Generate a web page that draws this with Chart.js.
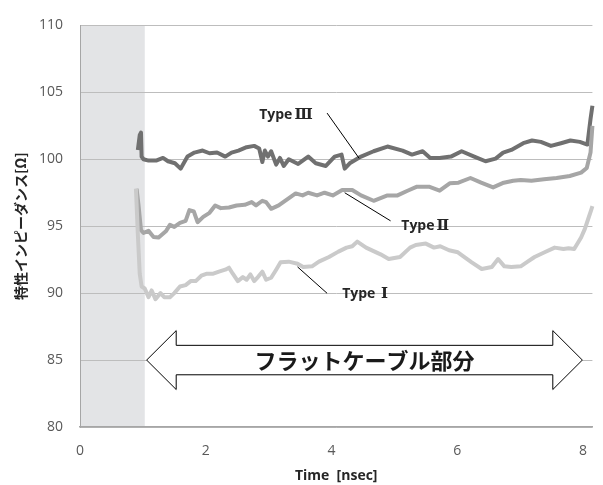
<!DOCTYPE html>
<html>
<head>
<meta charset="utf-8">
<script src="https://cdn.jsdelivr.net/npm/chart.js@4"></script>
<style>
  html, body { margin: 0; padding: 0; background: #fff; }
  #c { display: block; }
</style>
</head>
<body>
<canvas id="c" width="603" height="485"></canvas>
<script>
// 時間軸 [nsec] と特性インピーダンス [Ω]
const tType3 = [0.92, 0.95, 0.97, 0.98, 1.01, 1.09, 1.21, 1.32, 1.40, 1.51, 1.60, 1.71, 1.82, 1.95, 2.06, 2.18, 2.31, 2.41, 2.52, 2.65, 2.77, 2.85, 2.90, 2.94, 2.99, 3.04, 3.12, 3.18, 3.24, 3.32, 3.47, 3.63, 3.75, 3.91, 4.05, 4.16, 4.21, 4.29, 4.47, 4.67, 4.89, 5.13, 5.28, 5.45, 5.57, 5.72, 5.90, 6.07, 6.27, 6.45, 6.61, 6.73, 6.86, 7.05, 7.19, 7.33, 7.49, 7.65, 7.80, 7.95, 8.07, 8.12, 8.15];
const vType3 = [100.7, 101.8, 102.0, 100.2, 100.0, 99.9, 99.9, 100.1, 99.85, 99.7, 99.3, 100.2, 100.5, 100.65, 100.45, 100.5, 100.2, 100.5, 100.65, 100.9, 101.0, 100.8, 99.8, 100.65, 100.2, 100.6, 99.6, 100.1, 99.5, 100.0, 99.65, 100.2, 99.7, 99.5, 100.2, 100.35, 99.3, 99.7, 100.2, 100.6, 100.95, 100.65, 100.35, 100.6, 100.1, 100.1, 100.2, 100.6, 100.2, 99.85, 100.05, 100.5, 100.7, 101.2, 101.4, 101.3, 101.0, 101.2, 101.4, 101.3, 101.1, 103.0, 104.0];

const tType2 = [0.90, 0.93, 0.97, 1.01, 1.09, 1.17, 1.25, 1.37, 1.43, 1.50, 1.59, 1.68, 1.74, 1.81, 1.87, 1.96, 2.06, 2.15, 2.24, 2.37, 2.49, 2.62, 2.73, 2.80, 2.90, 2.96, 3.04, 3.16, 3.43, 3.54, 3.63, 3.77, 3.89, 4.02, 4.17, 4.33, 4.47, 4.67, 4.89, 5.05, 5.21, 5.36, 5.55, 5.72, 5.88, 6.02, 6.21, 6.38, 6.57, 6.74, 6.89, 7.01, 7.18, 7.38, 7.58, 7.79, 7.97, 8.06, 8.12, 8.15];
const vType2 = [97.8, 96.6, 94.7, 94.5, 94.65, 94.2, 94.15, 94.65, 95.1, 94.95, 95.25, 95.4, 96.2, 96.1, 95.3, 95.7, 96.0, 96.55, 96.35, 96.4, 96.55, 96.6, 96.8, 96.55, 96.9, 96.8, 96.3, 96.55, 97.45, 97.3, 97.5, 97.3, 97.5, 97.3, 97.7, 97.7, 97.3, 96.9, 97.3, 97.3, 97.65, 97.95, 97.95, 97.65, 98.2, 98.25, 98.6, 98.25, 97.9, 98.25, 98.4, 98.45, 98.4, 98.5, 98.6, 98.75, 99.0, 99.35, 100.5, 102.5];

const tType1 = [0.89, 0.92, 0.95, 0.98, 1.03, 1.09, 1.14, 1.20, 1.28, 1.34, 1.43, 1.50, 1.59, 1.68, 1.76, 1.84, 1.93, 2.02, 2.12, 2.21, 2.31, 2.37, 2.43, 2.51, 2.59, 2.65, 2.71, 2.77, 2.83, 2.90, 2.96, 3.04, 3.12, 3.19, 3.32, 3.46, 3.55, 3.69, 3.80, 3.96, 4.11, 4.24, 4.33, 4.41, 4.55, 4.78, 4.91, 5.09, 5.25, 5.34, 5.50, 5.63, 5.73, 5.87, 6.01, 6.23, 6.39, 6.55, 6.65, 6.75, 6.86, 7.01, 7.12, 7.23, 7.39, 7.55, 7.69, 7.77, 7.86, 7.97, 8.03, 8.08, 8.13, 8.15];
const vType1 = [97.8, 94.4, 91.45, 90.5, 90.35, 89.7, 90.2, 89.55, 90.0, 89.7, 89.7, 90.0, 90.5, 90.6, 90.9, 90.9, 91.3, 91.45, 91.45, 91.6, 91.75, 91.9, 91.45, 90.9, 91.2, 91.0, 91.4, 90.9, 91.2, 91.6, 91.0, 91.15, 91.75, 92.3, 92.35, 92.2, 91.95, 92.0, 92.35, 92.7, 93.1, 93.4, 93.5, 93.85, 93.4, 92.9, 92.55, 92.7, 93.4, 93.6, 93.7, 93.4, 93.5, 93.2, 93.05, 92.3, 91.8, 91.95, 92.55, 92.0, 91.95, 92.0, 92.35, 92.7, 93.05, 93.4, 93.3, 93.35, 93.3, 94.15, 94.8, 95.5, 96.2, 96.5];

const seriesNames = ["Type Ⅰ", "TypeⅡ", "TypeⅢ"];
const seriesColors = ["#cacaca", "#a6a6a6", "#707070"];
const xTicks = [0, 2, 4, 6, 8];
const xMax = 8.15;
const shadeEnd = 1.03;
const flatLabel = "フラットケーブル部分";
const yTitle = "特性インピーダンス[Ω]";
const xTitle = "Time  [nsec]";

const LATIN = '"Open Sans", "Noto Sans CJK JP", sans-serif';
const CJK = '"Noto Sans CJK JP", "Open Sans", sans-serif';
const NUMERAL = '"DejaVu Serif", "Noto Sans CJK JP", serif';

function toPoints(ts, vs) {
  return ts.map((t, i) => ({ x: t, y: vs[i] }));
}

// 左側の灰色帯（グリッドより先に描画）
const shadePlugin = {
  id: "shade",
  beforeDraw(chart) {
    const { ctx, chartArea, scales } = chart;
    const x0 = scales.x.getPixelForValue(0);
    const x1 = scales.x.getPixelForValue(shadeEnd);
    ctx.save();
    ctx.fillStyle = "#e3e4e6";
    ctx.fillRect(x0, chartArea.top, x1 - x0, chartArea.bottom - chartArea.top);
    ctx.restore();
  }
};

// 両矢印、ラベル、引き出し線
const notePlugin = {
  id: "notes",
  afterDatasetsDraw(chart) {
    const { ctx, scales } = chart;
    const px = (t) => scales.x.getPixelForValue(t);
    const py = (v) => scales.y.getPixelForValue(v);
    ctx.save();

    // 引き出し線
    ctx.strokeStyle = "#000";
    ctx.lineWidth = 1;
    const leaders = [
      [3.46, 91.96, 3.93, 89.99],
      [4.21, 97.5, 4.94, 95.4],
      [3.93, 103.45, 4.44, 100.07]
    ];
    leaders.forEach(([a, b, c, d]) => {
      ctx.beginPath();
      ctx.moveTo(px(a), py(b));
      ctx.lineTo(px(c), py(d));
      ctx.stroke();
    });

    // 系列ラベル（"Type" とローマ数字を別フォントで）
    ctx.fillStyle = "#262626";
    ctx.textBaseline = "middle";
    ctx.textAlign = "left";
    const labelPos = [[4.17, 89.9], [5.11, 95.03], [2.85, 103.3]];
    labelPos.forEach(([t, v], i) => {
      const name = seriesNames[i];
      const head = name.slice(0, -1);
      const num = name.slice(-1);
      ctx.font = "bold 14px " + LATIN;
      ctx.fillText(head, px(t), py(v));
      const w = ctx.measureText(head).width;
      ctx.font = "bold 15px " + NUMERAL;
      ctx.fillText(num, px(t) + w + 2, py(v));
    });

    // 両矢印
    const tipL = 1.06, baseL = 1.53, baseR = 7.52, tipR = 7.99;
    const mid = 85, headTop = 87.2, shaftTop = 86.1, shaftBot = 83.9, headBot = 82.8;
    ctx.beginPath();
    ctx.moveTo(px(tipL), py(mid));
    ctx.lineTo(px(baseL), py(headTop));
    ctx.lineTo(px(baseL), py(shaftTop));
    ctx.lineTo(px(baseR), py(shaftTop));
    ctx.lineTo(px(baseR), py(headTop));
    ctx.lineTo(px(tipR), py(mid));
    ctx.lineTo(px(baseR), py(headBot));
    ctx.lineTo(px(baseR), py(shaftBot));
    ctx.lineTo(px(baseL), py(shaftBot));
    ctx.lineTo(px(baseL), py(headBot));
    ctx.closePath();
    ctx.fillStyle = "#fff";
    ctx.fill();
    ctx.strokeStyle = "#000";
    ctx.lineWidth = 1;
    ctx.stroke();

    ctx.fillStyle = "#1a1a1a";
    ctx.font = "bold 22px " + CJK;
    ctx.textAlign = "center";
    ctx.fillText(flatLabel, px((tipL + tipR) / 2), py(mid) + 1);

    ctx.restore();
  }
};

new Chart(document.getElementById("c"), {
  type: "scatter",
  data: {
    datasets: seriesNames.map((name, i) => ({
      label: name,
      data: toPoints([tType1, tType2, tType3][i], [vType1, vType2, vType3][i]),
      showLine: true,
      borderColor: seriesColors[i],
      backgroundColor: seriesColors[i],
      borderWidth: 4,
      pointRadius: 0,
      tension: 0,
      borderJoinStyle: "round",
      clip: false
    }))
  },
  options: {
    responsive: false,
    animation: false,
    layout: { padding: { top: 17, right: 1, left: 0, bottom: 0 } },
    plugins: {
      legend: { display: false },
      tooltip: { enabled: false }
    },
    scales: {
      x: {
        type: "linear",
        min: 0,
        max: xMax,
        afterFit: (s) => { s.height = 58; },
        afterBuildTicks: (s) => { s.ticks = xTicks.map(v => ({ value: v })); },
        ticks: {
          padding: 16,
          color: "#595959",
          font: { family: LATIN, size: 14 }
        },
        grid: { display: false, drawTicks: false },
        border: { display: true, color: "#a6a6a6", width: 1.5 },
        title: {
          display: true,
          text: xTitle,
          color: "#262626",
          font: { family: LATIN, size: 14, weight: "bold" },
          padding: { top: 0, bottom: 1 }
        }
      },
      y: {
        min: 80,
        max: 110,
        afterFit: (s) => { s.width = 80; },
        ticks: {
          stepSize: 5,
          padding: 17,
          color: "#595959",
          font: { family: LATIN, size: 14 }
        },
        grid: { color: "#bdbdbd", lineWidth: 1, drawTicks: false },
        border: { display: true, color: "#a6a6a6", width: 1 },
        title: {
          display: true,
          text: yTitle,
          color: "#262626",
          font: { family: CJK, size: 14, weight: "bold" },
          padding: { top: 12, bottom: 0 }
        }
      }
    }
  },
  plugins: [shadePlugin, notePlugin]
});
</script>
</body>
</html>
